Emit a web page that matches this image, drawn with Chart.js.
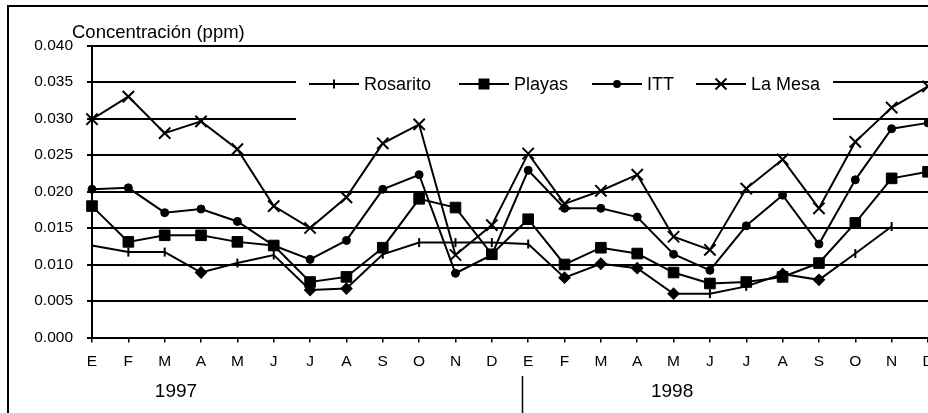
<!DOCTYPE html>
<html>
<head>
<meta charset="utf-8">
<script src="https://cdn.jsdelivr.net/npm/chart.js@4.4.1/dist/chart.umd.min.js"></script>
<style>
  html, body { margin: 0; padding: 0; background: #fff; overflow: hidden; }
  #wrap { position: absolute; left: 0; top: 0; width: 960px; height: 413px; }
</style>
</head>
<body>
<div id="wrap"><canvas id="chart" width="960" height="413"></canvas></div>
<script>
const months = ['E', 'F', 'M', 'A', 'M', 'J', 'J', 'A', 'S', 'O', 'N', 'D',
                'E', 'F', 'M', 'A', 'M', 'J', 'J', 'A', 'S', 'O', 'N', 'D'];
const years = ['1997', '1998'];
const seriesNames = ['Rosarito', 'Playas', 'ITT', 'La Mesa'];
const yTickLabels = ['0.000', '0.005', '0.010', '0.015', '0.020', '0.025', '0.030', '0.035', '0.040'];

const rosarito = [0.0126, 0.0117, 0.0117, 0.0089, 0.0102, 0.0113, 0.0065, 0.0067, 0.0114, 0.0130, 0.0130, 0.0130,
                  0.0128, 0.0082, 0.0101, 0.0095, 0.0060, 0.0060, 0.0070, 0.0087, 0.0079, 0.0115, 0.0152, null];
// some Rosarito points carry a diamond instead of the tick mark
const rosaritoMarker = ['t', 't', 't', 'd', 't', 't', 'd', 'd', 't', 't', 't', 't',
                        't', 'd', 'd', 'd', 'd', 't', 't', 'd', 'd', 't', 't', 't'];
const playas = [0.0180, 0.0131, 0.0140, 0.0140, 0.0131, 0.0126, 0.0076, 0.0083, 0.0123, 0.0190, 0.0178, 0.0114,
                0.0162, 0.0100, 0.0123, 0.0115, 0.0089, 0.0074, 0.0076, 0.0083, 0.0102, 0.0157, 0.0218, 0.0227];
const itt = [0.0203, 0.0205, 0.0171, 0.0176, 0.0159, 0.0126, 0.0107, 0.0133, 0.0203, 0.0223, 0.0088, 0.0113,
             0.0229, 0.0177, 0.0177, 0.0165, 0.0114, 0.0092, 0.0153, 0.0195, 0.0128, 0.0216, 0.0286, 0.0294];
const laMesa = [0.0299, 0.0330, 0.0280, 0.0296, 0.0258, 0.0180, 0.0150, 0.0192, 0.0266, 0.0292, 0.0113, 0.0154,
                0.0252, 0.0183, 0.0201, 0.0223, 0.0138, 0.0120, 0.0204, 0.0244, 0.0177, 0.0268, 0.0315, 0.0344];

const FONT = '"Liberation Sans", Arial, Helvetica, sans-serif';
const legendMarks = ['tick', 'square', 'dot', 'cross'];
const legendX = [309, 459, 592, 696];

function drawMark(ctx, kind, x, y) {
  ctx.save();
  ctx.strokeStyle = '#000';
  ctx.fillStyle = '#000';
  ctx.lineWidth = 2;
  ctx.beginPath();
  if (kind === 'tick') {
    ctx.moveTo(x, y - 4.5);
    ctx.lineTo(x, y + 4.5);
    ctx.stroke();
  } else if (kind === 'square') {
    ctx.fillRect(x - 5.5, y - 5.5, 11, 11);
  } else if (kind === 'dot') {
    ctx.arc(x, y, 4, 0, Math.PI * 2);
    ctx.fill();
  } else if (kind === 'cross') {
    ctx.moveTo(x - 5.5, y - 5.5); ctx.lineTo(x + 5.5, y + 5.5);
    ctx.moveTo(x + 5.5, y - 5.5); ctx.lineTo(x - 5.5, y + 5.5);
    ctx.stroke();
  }
  ctx.restore();
}

const framePlugin = {
  id: 'frame',
  beforeDraw(chart) {
    const ctx = chart.ctx;
    ctx.save();
    ctx.fillStyle = '#fff';
    ctx.fillRect(0, 0, chart.width, chart.height);
    ctx.strokeStyle = '#000';
    ctx.lineWidth = 2;
    ctx.strokeRect(8, 6, chart.width + 20, chart.height + 20);
    ctx.restore();
  },
  beforeDatasetsDraw(chart) {
    // legend box hides the gridlines behind it
    const ctx = chart.ctx;
    ctx.save();
    ctx.fillStyle = '#fff';
    ctx.fillRect(296, 54, 537, 76);
    ctx.restore();
  },
  afterDraw(chart) {
    const ctx = chart.ctx;
    const x = chart.scales.x;
    ctx.save();
    ctx.fillStyle = '#000';
    ctx.textBaseline = 'alphabetic';
    ctx.textAlign = 'left';
    ctx.font = '18.5px ' + FONT;
    ctx.fillText('Concentración (ppm)', 72, 37.5);

    ctx.font = '18px ' + FONT;
    seriesNames.forEach((name, i) => {
      const x0 = legendX[i];
      ctx.strokeStyle = '#000';
      ctx.lineWidth = 2;
      ctx.beginPath();
      ctx.moveTo(x0, 84);
      ctx.lineTo(x0 + 50, 84);
      ctx.stroke();
      drawMark(ctx, legendMarks[i], x0 + 25, 84);
      ctx.fillText(name, x0 + 55, 90);
    });

    ctx.font = '19px ' + FONT;
    ctx.textAlign = 'center';
    ctx.fillText(years[0], x.getPixelForValue(2.31), 396.5);
    ctx.fillText(years[1], x.getPixelForValue(15.96), 396.5);

    const sx = Math.round(x.getPixelForValue(11.83)) + 0.5;
    ctx.lineWidth = 1.5;
    ctx.beginPath();
    ctx.moveTo(sx, 376);
    ctx.lineTo(sx, chart.height);
    ctx.stroke();
    ctx.restore();
  }
};

const lineBase = {
  borderColor: '#000',
  borderWidth: 2,
  pointBackgroundColor: '#000',
  pointBorderColor: '#000',
  pointBorderWidth: 1,
  tension: 0,
  clip: false
};

new Chart(document.getElementById('chart').getContext('2d'), {
  type: 'line',
  data: {
    labels: months,
    datasets: [
      Object.assign({}, lineBase, {
        label: seriesNames[0], data: rosarito,
        pointStyle: c => rosaritoMarker[c.dataIndex] === 'd' ? 'rectRot' : 'line',
        pointRotation: c => rosaritoMarker[c.dataIndex] === 'd' ? 0 : 90,
        pointRadius: c => rosaritoMarker[c.dataIndex] === 'd' ? 5 : 4.5,
        pointBorderWidth: 2
      }),
      Object.assign({}, lineBase, { label: seriesNames[1], data: playas, pointStyle: 'rect', pointRadius: 7.5 }),
      Object.assign({}, lineBase, { label: seriesNames[2], data: itt, pointStyle: 'circle', pointRadius: 4 }),
      Object.assign({}, lineBase, { label: seriesNames[3], data: laMesa, pointStyle: 'crossRot', pointRadius: 8, pointBorderWidth: 2 })
    ]
  },
  options: {
    responsive: false,
    animation: false,
    layout: { padding: { left: 0, top: 45.5, right: 32, bottom: 35.5 } },
    plugins: {
      legend: { display: false },
      tooltip: { enabled: false },
      title: { display: false }
    },
    scales: {
      x: {
        offset: false,
        grid: { drawOnChartArea: false, drawTicks: true, tickLength: 5, color: '#000', lineWidth: 1.5 },
        border: { color: '#000', width: 2 },
        ticks: { color: '#000', font: { family: FONT, size: 15.5 }, padding: 10, maxRotation: 0, autoSkip: false },
        afterFit: s => { s.height = 40; }
      },
      y: {
        min: 0,
        max: 0.04,
        grid: { color: '#000', lineWidth: 2, tickLength: 5 },
        border: { color: '#000', width: 2 },
        ticks: {
          stepSize: 0.005,
          color: '#000',
          font: { family: FONT, size: 15.5 },
          padding: 14,
          callback: (v, i) => yTickLabels[i]
        },
        afterFit: s => { s.width = 92; }
      }
    }
  },
  plugins: [framePlugin]
});
</script>
</body>
</html>
